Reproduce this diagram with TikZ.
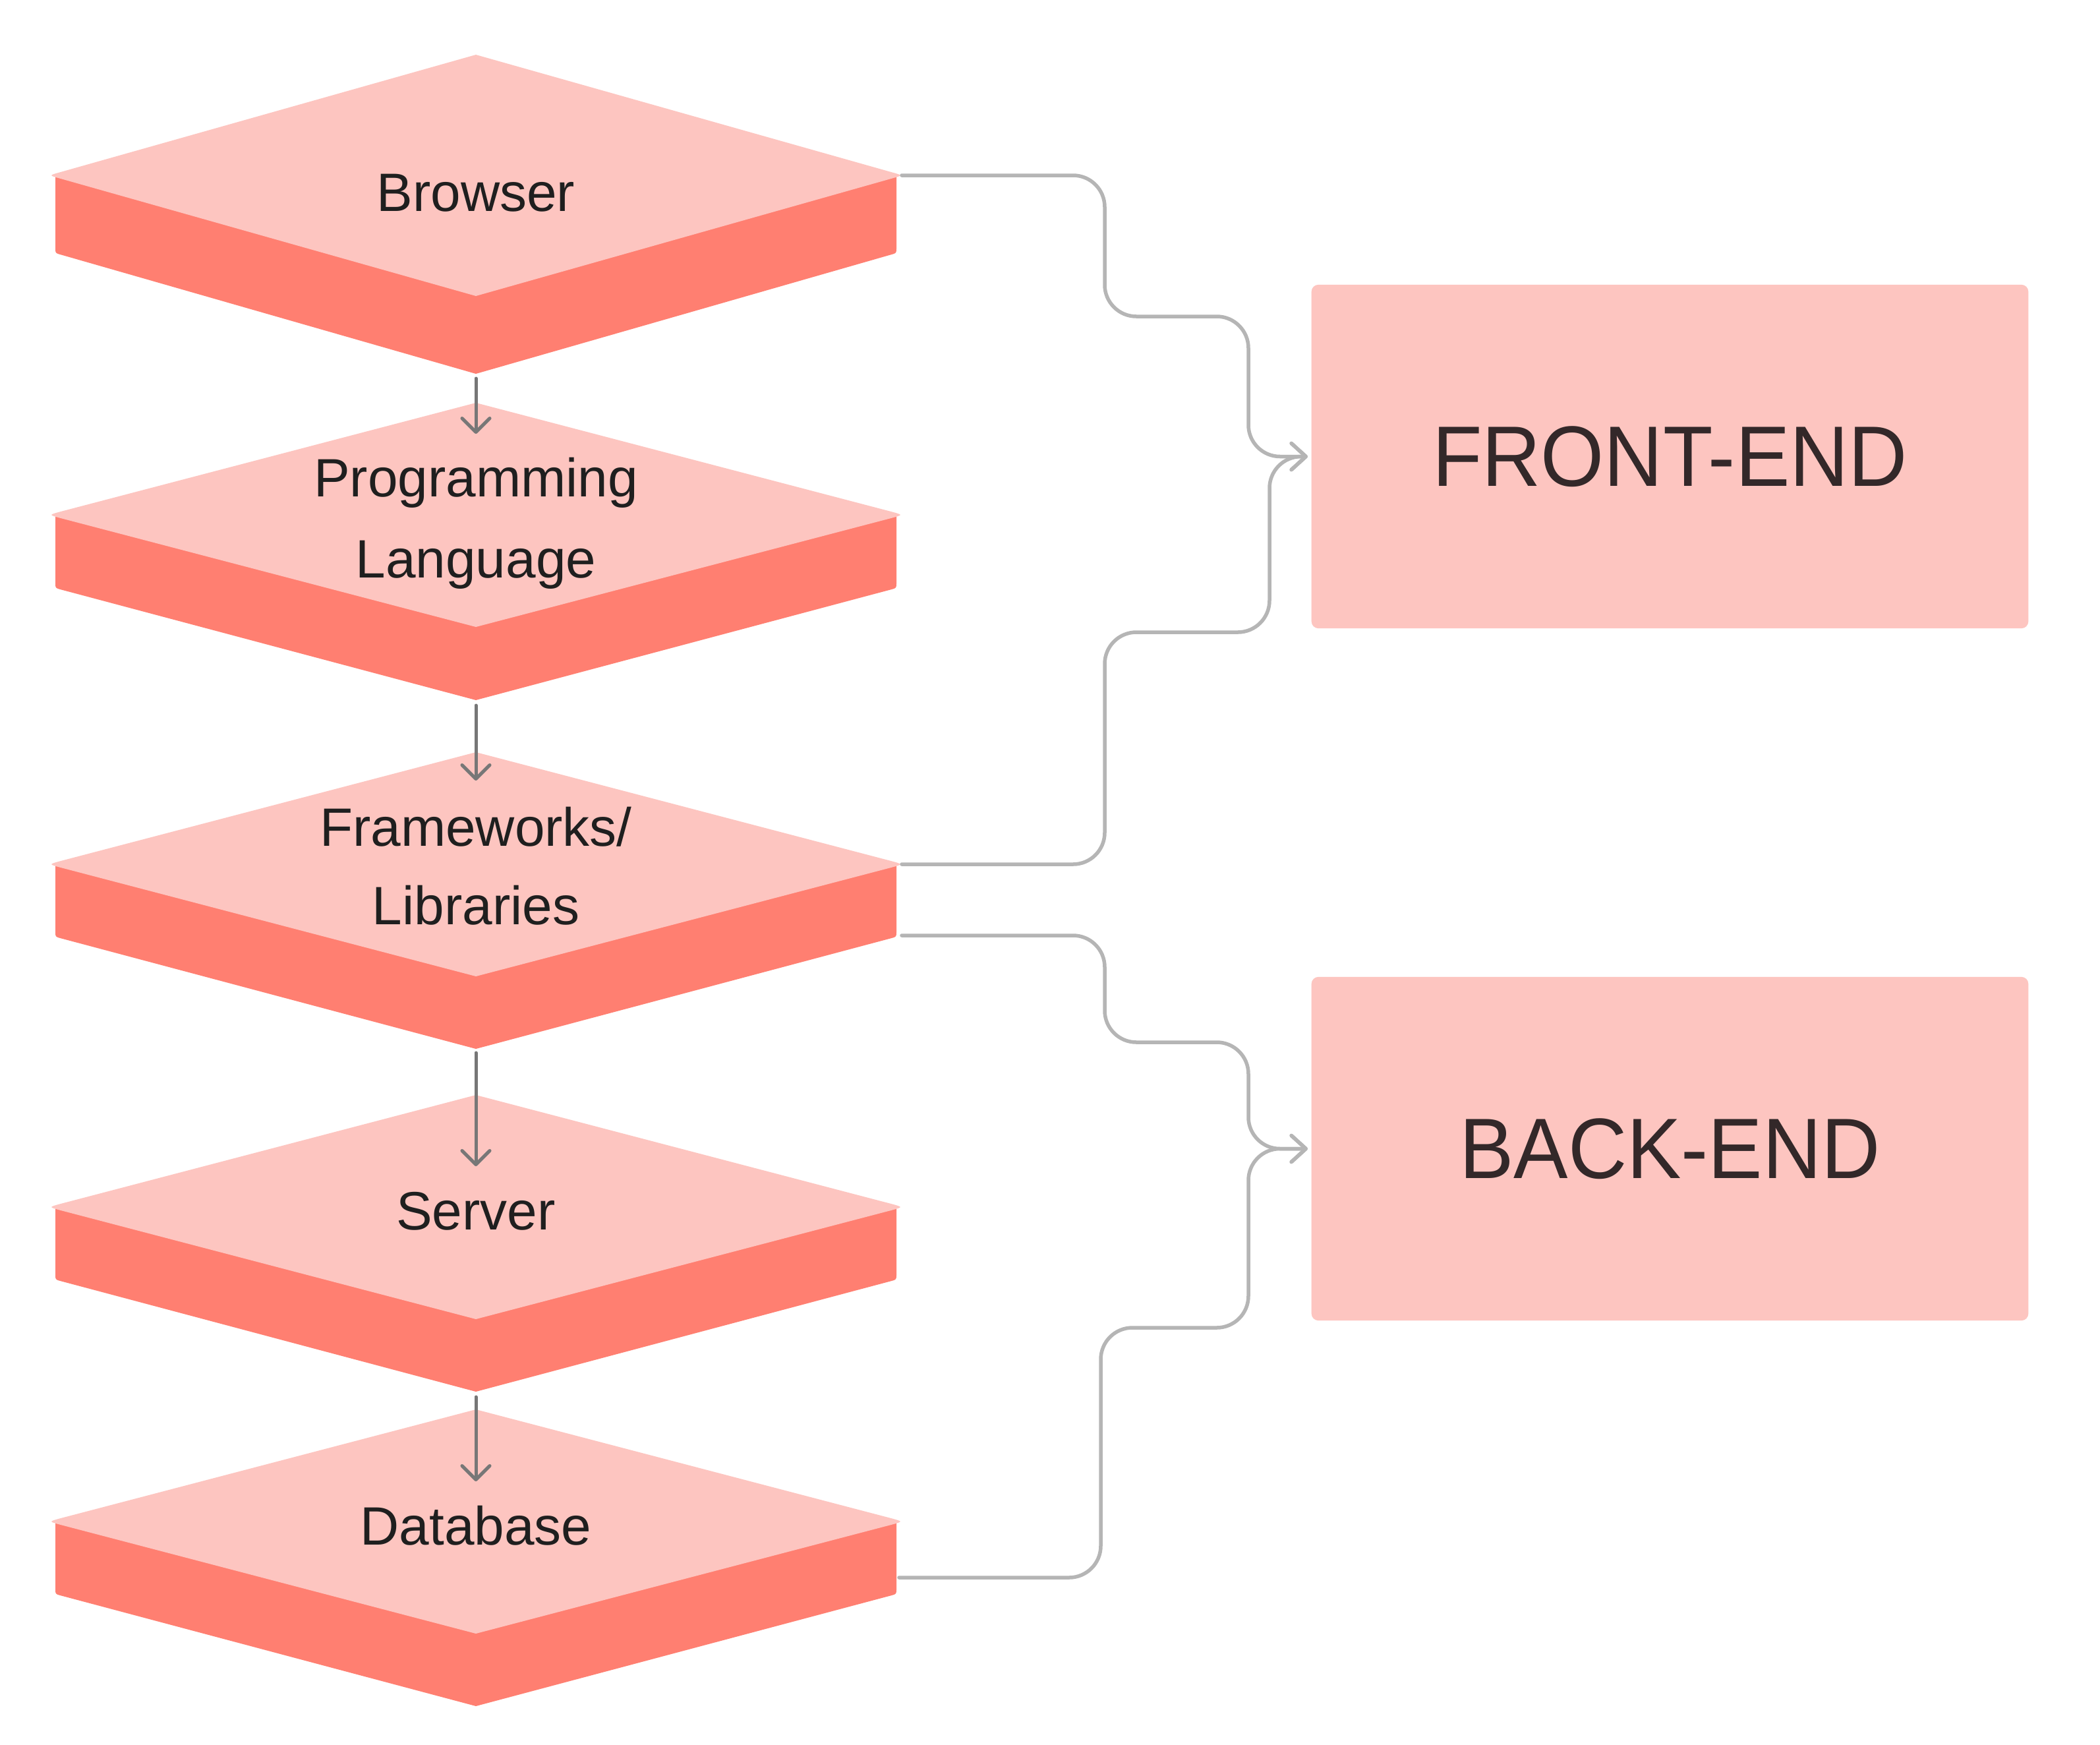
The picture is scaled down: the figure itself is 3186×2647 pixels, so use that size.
\documentclass[tikz,border=0pt]{standalone}
\usepackage{fontspec}
\setmainfont{Liberation Sans}
\newfontfamily\headfont{Liberation Sans}[FakeStretch=0.95]
\usetikzlibrary{arrows.meta}
\definecolor{lightc}{HTML}{FDC5C0}
\definecolor{darkc}{HTML}{FF7F71}
\definecolor{linkc}{HTML}{B5B5B5}
\definecolor{flowc}{HTML}{777777}
\definecolor{labc}{HTML}{1F1F1F}
\definecolor{headc}{HTML}{332829}
% #1 mid y, #2 half height of top face, #3 thickness
\newcommand\isolayer[3]{%
  \fill[darkc] (84,#1) -- (84,#1+#3-8) .. controls (84,#1+#3) .. (92,#1+#3+2.2)
     -- (722,#1+#2+#3) -- (1352,#1+#3+2.2) .. controls (1360,#1+#3) .. (1360,#1+#3-8)
     -- (1360,#1) -- cycle;
  \fill[lightc] (722,#1-#2) -- (91,#1-4.7) .. controls (74,#1) .. (91,#1+4.7)
     -- (722,#1+#2) -- (1353,#1+4.7) .. controls (1370,#1) .. (1353,#1-4.7) -- cycle;
}
\tikzset{
  lab/.style={font=\fontsize{23.3}{28}\selectfont, text=labc, inner sep=0pt, anchor=base},
  headbox/.style={fill=lightc, rounded corners=3pt, minimum width=10.87cm, minimum height=5.21cm,
    inner sep=0pt, text=headc, font=\headfont\fontsize{37}{44}\selectfont},
  link/.style={draw=linkc, line width=0.055cm, line cap=round, rounded corners=0.48cm,
    -{Straight Barb[round, length=0.22cm, width=0.40cm]}},
  flow/.style={draw=flowc, line width=0.05cm, line cap=round,
    -{Straight Barb[round, length=0.21cm, width=0.42cm]}}
}
\begin{document}
\begin{tikzpicture}[x=0.01cm, y=-0.01cm]
\useasboundingbox (0,0) rectangle (3186,2647);
\fill[white] (0,0) rectangle (3186,2647);

% layers
\isolayer{266}{183}{118}
\isolayer{781}{170}{111}
\isolayer{1311}{170}{110}
\isolayer{1831}{170}{110}
\isolayer{2308}{170}{110}

% labels
\node[lab] (browser) at (722,320) {Browser};
\node[lab] (prog) at (722,753) {Programming};
\node[lab] (prog2) at (722,876) {Language};
\node[lab] (frame) at (722,1283) {Frameworks/};
\node[lab] (frame2) at (722,1402) {Libraries};
\node[lab] (server) at (722,1865) {Server};
\node[lab] (db) at (722,2343) {Database};

% boxes
\node[headbox] (fe) at (2533.5,692.5) {FRONT-END};
\node[headbox] (be) at (2533.5,1742.5) {BACK-END};

% connection points
\coordinate (b-out) at (722,574);
\coordinate (p-in) at (722,658);
\coordinate (p-out) at (722,1070);
\coordinate (f-in) at (722,1184);
\coordinate (f-out) at (722,1597);
\coordinate (s-in) at (722,1769);
\coordinate (s-out) at (722,2119);
\coordinate (d-in) at (722,2247);

\coordinate (b-r) at (1368,266);
\coordinate (f-r) at (1368,1311);
\coordinate (f-r2) at (1368,1419);
\coordinate (d-r) at (1364,2393);
\coordinate (fe-in) at ([xshift=-0.05cm]fe.west);
\coordinate (be-in) at ([xshift=-0.05cm]be.west);

% flow arrows
\draw[flow] (b-out) -- (p-in);
\draw[flow] (p-out) -- (f-in);
\draw[flow] (f-out) -- (s-in);
\draw[flow] (s-out) -- (d-in);

% links
\draw[link] (b-r) -| (1676,480) -| (1894,692.5) -- (fe-in);
\draw[link] (f-r) -| (1676,959) -| (1926,692.5) -- (fe-in);
\draw[link] (f-r2) -| (1676,1581) -| (1894,1742.5) -- (be-in);
\draw[link] (d-r) -| (1670,2014) -| (1894,1742.5) -- (be-in);
\end{tikzpicture}
\end{document}
